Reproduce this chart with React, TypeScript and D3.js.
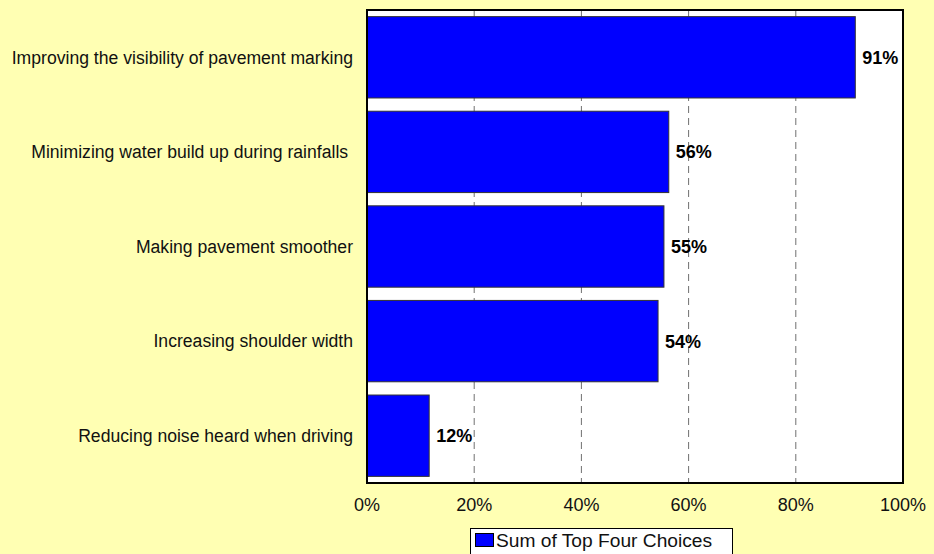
import React from "react";
import * as d3 from "d3";

const categories = [
  "Improving the visibility of pavement marking",
  "Minimizing water build up during rainfalls ",
  "Making pavement smoother",
  "Increasing shoulder width",
  "Reducing noise heard when driving",
];
const values = [0.911, 0.563, 0.554, 0.543, 0.116];
const ticks = [0, 0.2, 0.4, 0.6, 0.8, 1.0];
const seriesName = "Sum of Top Four Choices";

export default function App() {
  const W = 934, H = 554;
  const left = 367, right = 903, top = 10, bottom = 483;
  const x = d3.scaleLinear().domain([0, 1]).range([left, right]);
  const y = d3.scaleBand<string>().domain(categories).range([top, bottom]).paddingInner(0.14).paddingOuter(0.07);
  const pct = d3.format(".0%");
  return (
    <svg width={W} height={H} style={{ position: "absolute", left: 0, top: 0, fontFamily: "Liberation Sans, Arial, sans-serif" }}>
      <rect x={0} y={0} width={W} height={H} fill="#FFFFB3" />
      <rect x={left} y={top} width={right - left} height={bottom - top} fill="#FFFFFF" />
      {ticks.slice(1, -1).map((t) => (
        <line key={t} x1={x(t)} x2={x(t)} y1={top} y2={bottom} stroke="#707070" strokeWidth={1} strokeDasharray="7,5" />
      ))}
      {categories.map((c, i) => (
        <g key={c}>
          <rect x={x(0)} y={y(c)} width={x(values[i]) - x(0)} height={y.bandwidth()} fill="#0000FF" stroke="#333333" strokeWidth={1} />
          <text x={x(values[i]) + 7} y={y(c)! + y.bandwidth() / 2} dy="0.36em" fontSize={18} fontWeight="bold" fill="#000">
            {pct(values[i])}
          </text>
          <text x={353} y={y(c)! + y.bandwidth() / 2} dy="0.36em" fontSize={17.6} textAnchor="end" fill="#111" style={{ whiteSpace: "pre" }}>
            {c}
          </text>
        </g>
      ))}
      <rect x={left} y={top} width={right - left} height={bottom - top} fill="none" stroke="#000" strokeWidth={2} />
      {ticks.map((t) => (
        <text key={t} x={x(t)} y={511} fontSize={18} textAnchor="middle" fill="#111">
          {pct(t)}
        </text>
      ))}
      <rect x={470.5} y={528.5} width={262} height={40} fill="#FFFFFF" stroke="#000" strokeWidth={1} />
      <rect x={475.5} y={533.5} width={18} height={13} fill="#0000FF" stroke="#000" strokeWidth={1} />
      <text x={496} y={547} fontSize={19.2} fill="#111">{seriesName}</text>
    </svg>
  );
}
